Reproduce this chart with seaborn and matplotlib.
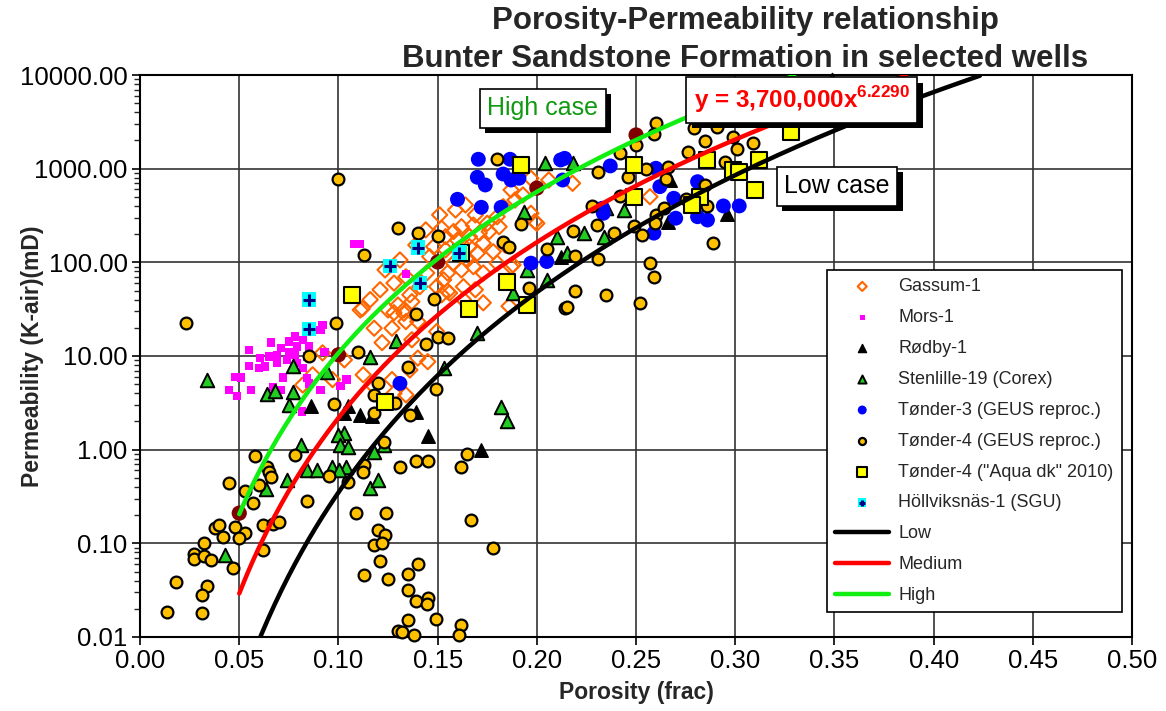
import numpy as np
import pandas as pd
import seaborn as sns
import matplotlib
matplotlib.use("Agg")
import matplotlib.pyplot as plt
from matplotlib.markers import MarkerStyle
import matplotlib.patheffects as pe
from matplotlib.ticker import FixedLocator, FuncFormatter, LogLocator, NullFormatter
from matplotlib.legend_handler import HandlerTuple

# ---------------- data (porosity frac, permeability mD) ----------------
gassum_por = [0.197,0.187,0.193,0.189,0.183,0.200,0.197,0.180,0.175,0.168,0.162,0.158,0.154,0.148,0.146,0.154,0.160,0.166,0.171,0.176,0.181,0.173,0.170,0.165,0.162,0.158,0.155,0.153,0.1495,0.1445,0.141,0.134,0.128,0.173,0.180,0.178,0.187,0.163,0.156,0.152,0.166,0.168,0.112,0.125,0.136,0.130,0.128,0.133,0.118,0.127,0.122,0.134,0.140,0.137,0.103,0.097,0.1125,0.140,0.145,0.1495,0.134,0.128,0.152,0.155,0.173,0.186,0.136,0.118,0.127,0.111,0.087,0.082,0.199,0.188,0.133,0.137,0.257,0.218,0.092,0.206,0.159,0.164,0.169,0.151,0.144,0.139,0.131,0.1235,0.121,0.116,0.163,0.169,0.184]
gassum_k   = [790,593,524,463,393,261,334,307,261,250,240,213,188,147,115,136,173,188,205,213,240,160,125,106,83,98,77,65,55,77,55,70,60,77,98,130,90,55,47,231,147,90,32,31,45,35,29,28.6,19.8,19.8,13.9,23.3,23.3,14.9,9.1,5.6,6.3,9.5,8.7,18.2,3.85,4.0,45,49,37,34,7.1,4.7,5.6,31,6.3,4.9,272,94,31,38,502,698,10.8,757,362,410,321,321,222,153,106,83,51,40,40,51,153]

mors_por = [0.111,0.092,0.091,0.078,0.066,0.055,0.071,0.075,0.082,0.079,0.085,0.0605,0.065,0.069,0.074,0.055,0.060,0.063,0.069,0.079,0.082,0.048,0.051,0.072,0.084,0.104,0.101,0.045,0.049,0.056,0.067,0.071,0.085,0.091,0.0815,0.093,0.078,0.084,0.075,0.134,0.108]
mors_k   = [157,21.5,19,16.1,13.9,11.6,12.1,14.3,14.9,12.6,12.6,9.5,9.9,10.3,9.1,7.8,7.4,7.7,8.4,8.4,7.4,6.0,5.9,5.9,5.8,5.6,4.8,4.3,3.75,4.3,4.7,4.35,5.1,4.3,2.55,11.1,10.3,9.9,11.1,75,157]

rodby_por = [0.086,0.105,0.103,0.111,0.117,0.139,0.145,0.172,0.212,0.215,0.266,0.296,0.267]
rodby_k   = [2.96,2.93,2.47,2.32,2.30,2.55,1.40,1.0,115,120,272,329,757]

sten_por = [0.034,0.077,0.064,0.068,0.077,0.075,0.094,0.116,0.103,0.081,0.100,0.101,0.105,0.084,0.089,0.097,0.104,0.1005,0.074,0.0635,0.116,0.120,0.043,0.129,0.153,0.170,0.182,0.185,0.118,0.123,0.188,0.204,0.1935,0.210,0.195,0.205,0.244,0.224,0.234,0.235,0.215,0.218,0.349]
sten_k   = [5.6,7.8,3.9,4.2,4.1,3.0,6.8,9.7,1.52,1.12,1.44,1.12,1.08,0.61,0.61,0.66,0.65,0.60,0.47,0.38,0.39,0.48,0.075,14.3,7.4,17.5,2.85,2.0,0.95,1.12,47,1140,348,188,83,65,362,205,188,378,125,1150,8850]

t3_por = [0.1705,0.1865,0.170,0.174,0.183,0.187,0.191,0.160,0.172,0.182,0.212,0.214,0.213,0.197,0.205,0.131,0.237,0.260,0.262,0.269,0.270,0.281,0.281,0.286,0.294,0.302,0.259,0.233,0.2335]
t3_k   = [1260,1260,810,670,877,757,790,471,387,387,1240,1290,757,98,102,5.1,1070,1010,643,483,296,726,307,283,400,400,205,378,334]

t4_por = [0.058,0.078,0.064,0.065,0.066,0.045,0.060,0.053,0.057,0.084,0.095,0.113,0.1125,0.105,0.109,0.120,0.118,0.113,0.121,0.038,0.040,0.042,0.048,0.053,0.050,0.062,0.067,0.070,0.032,0.027,0.027,0.032,0.036,0.047,0.062,0.018,0.034,0.031,0.0135,0.031,0.023,0.113,0.099,0.085,0.110,0.098,0.118,0.120,0.118,0.100,0.180,0.130,0.140,0.150,0.183,0.186,0.192,0.205,0.196,0.148,0.139,0.144,0.150,0.155,0.135,0.1285,0.136,0.149,0.214,0.123,0.131,0.139,0.145,0.165,0.162,0.124,0.1235,0.122,0.125,0.140,0.135,0.135,0.139,0.145,0.1445,0.135,0.149,0.130,0.132,0.138,0.162,0.161,0.167,0.178,0.260,0.279,0.291,0.299,0.285,0.309,0.301,0.276,0.295,0.259,0.250,0.242,0.231,0.255,0.246,0.266,0.265,0.285,0.242,0.228,0.218,0.2305,0.239,0.249,0.253,0.260,0.264,0.275,0.286,0.2595,0.289,0.231,0.219,0.257,0.259,0.219,0.235,0.252,0.215]
t4_k   = [0.86,0.88,0.66,0.58,0.51,0.44,0.42,0.36,0.27,0.28,0.52,0.69,0.58,0.45,0.21,0.14,0.096,0.046,0.064,0.145,0.157,0.118,0.149,0.13,0.114,0.157,0.16,0.167,0.10,0.077,0.068,0.074,0.067,0.054,0.084,0.039,0.035,0.028,0.0187,0.018,22.7,120,22.7,10.0,11.1,3.06,3.85,5.1,2.45,776,1270,234,207,191,166,145,257,139,53,40.6,28.1,13.5,16.1,15.5,7.7,3.13,2.35,4.4,32.4,1.22,0.66,0.76,0.75,0.90,0.66,0.21,0.123,0.102,0.042,0.060,0.047,0.032,0.024,0.026,0.0224,0.0153,0.0155,0.0117,0.0114,0.0106,0.0135,0.0106,0.178,0.090,3100,2700,2800,2200,1990,1870,1610,1520,1190,2340,1790,1460,930,986,822,1035,776,670,512,400,218,250,205,244,196,320,384,471,400,261,162,108,117,98,70,50,45,37,33]

aqua_por = [0.107,0.192,0.162,0.185,0.166,0.1235,0.195,0.249,0.249,0.286,0.299,0.302,0.312,0.310,0.282,0.278,0.328]
aqua_k   = [45,1090,125,61,32,3.26,35,1090,495,1240,968,929,1240,593,502,410,2480]

holl_por = [0.085,0.085,0.140,0.126,0.141,0.161]
holl_k   = [40,19.3,144,92,60,127]

high_pts_por = [0.05,0.10,0.15,0.20,0.25]
high_pts_k   = [0.21,10.3,101,620,2290]

# trend lines  k = a * phi^b
low_a, low_b = 4.4e6, 7.1
med_a, med_b = 3.7e6, 6.229
high_a, high_b = 5.6e6, 5.716

series_labels = ["Gassum-1", "Mors-1", "Rødby-1", "Stenlille-19 (Corex)",
                 "Tønder-3 (GEUS reproc.)", "Tønder-4 (GEUS reproc.)",
                 "Tønder-4 (\"Aqua dk\" 2010)", "Höllviksnäs-1 (SGU)",
                 "Low", "Medium", "High"]
x_ticks = [0.00, 0.05, 0.10, 0.15, 0.20, 0.25, 0.30, 0.35, 0.40, 0.45, 0.50]
y_ticks = [0.01, 0.1, 1, 10, 100, 1000, 10000]

# ---------------- style ----------------
sns.set_style("white")
plt.rcParams["font.family"] = ["Liberation Sans", "DejaVu Sans"]
plt.rcParams["mathtext.fontset"] = "custom"
plt.rcParams["mathtext.bf"] = "Liberation Sans:bold"
plt.rcParams["mathtext.rm"] = "Liberation Sans"

fig = plt.figure(figsize=(11.66, 7.11), dpi=100)
fig.patch.set_facecolor("white")
ax = fig.add_axes([0.1201, 0.1041, 0.8508, 0.7904])

handles = []

def scat(xv, yv, **kw):
    sns.scatterplot(x=np.asarray(xv), y=np.asarray(yv), ax=ax, legend=False, clip_on=False, **kw)
    return ax.collections[-1]

h = scat(gassum_por, gassum_k, marker=MarkerStyle("D", fillstyle="none"), color="#FF6600", s=60, linewidth=1.5, zorder=3.0)
handles.append(h)
h = scat(mors_por, mors_k, marker="s", color="#FF00FF", edgecolor="none", s=36, zorder=3.1)
handles.append(h)
h = scat(rodby_por, rodby_k, marker="^", color="black", edgecolor="black", s=95, linewidth=1.0, zorder=3.2)
handles.append(h)
h = scat(sten_por, sten_k, marker="^", color="#22CC22", edgecolor="black", s=95, linewidth=1.4, zorder=3.3)
handles.append(h)
h = scat(t3_por, t3_k, marker="o", color="#0000FF", edgecolor="none", s=115, zorder=3.4)
handles.append(h)
h = scat(t4_por, t4_k, marker="o", color="#FFC000", edgecolor="black", s=72, linewidth=1.6, zorder=3.5)
handles.append(h)
h = scat(aqua_por, aqua_k, marker="s", color="#FFFF00", edgecolor="black", s=135, linewidth=1.5, zorder=3.6)
handles.append(h)
h1 = scat(holl_por, holl_k, marker="s", color="#00FFFF", edgecolor="none", s=105, zorder=3.7)
h2 = scat(holl_por, holl_k, marker="+", color="#000080", s=70, linewidth=2.2, zorder=3.75)
handles.append((h1, h2))
scat(high_pts_por, high_pts_k, marker="o", color="#800000", edgecolor="none", s=120, zorder=3.8)

xc = np.linspace(0.05, 0.5, 400)
line_specs = [(low_a, low_b, "black"), (med_a, med_b, "#FF0000"), (high_a, high_b, "#11EE11")]
for a, b, c in line_specs:
    yc = a * xc ** b
    keep = yc <= 10000
    sns.lineplot(x=xc[keep], y=yc[keep], ax=ax, color=c, linewidth=3.2, legend=False, zorder=4, sort=False)
    handles.append(ax.lines[-1])

# ---------------- axes ----------------
ax.set_yscale("log")
ax.set_xlim(0, 0.5)
ax.set_ylim(0.01, 10000)
ax.xaxis.set_major_locator(FixedLocator(x_ticks))
ax.xaxis.set_major_formatter(FuncFormatter(lambda v, p: f"{v:.2f}"))
ax.yaxis.set_major_locator(FixedLocator(y_ticks))
ax.yaxis.set_major_formatter(FuncFormatter(lambda v, p: f"{v:.2f}"))
ax.yaxis.set_minor_locator(LogLocator(base=10, subs=np.arange(2, 10)))
ax.yaxis.set_minor_formatter(NullFormatter())
ax.tick_params(axis="both", which="major", direction="out", length=6, width=1.2,
               labelsize=18.5, colors="black", bottom=True, left=True, pad=3)
ax.tick_params(axis="y", which="minor", direction="out", length=4, width=1.0, left=True)
ax.grid(True, which="major", color="#333333", linewidth=1.2)
ax.set_axisbelow(True)
for sp in ax.spines.values():
    sp.set_color("black")
    sp.set_linewidth(1.5)

ax.set_xlabel("Porosity (frac)", fontsize=16.5, fontweight="bold")
ax.xaxis.set_label_coords(0.5, -0.078)
ax.set_ylabel("Permeability (K-air)(mD)", fontsize=16.5, fontweight="bold")
ax.yaxis.set_label_coords(-0.097, 0.5)

fig.text(0.639, 0.992, "Porosity-Permeability relationship\nBunter Sandstone Formation in selected wells",
         ha="center", va="top", fontsize=22.5, fontweight="bold", linespacing=1.36)

# ---------------- annotation boxes ----------------
def boxed(x, y, s, color, fs, weight="normal"):
    t = ax.text(x, y, s, transform=ax.transAxes, ha="center", va="center", color=color,
                fontsize=fs, fontweight=weight, zorder=20,
                bbox=dict(boxstyle="square,pad=0.3", fc="white", ec="black", lw=1.2))
    t.get_bbox_patch().set_path_effects([
        pe.SimplePatchShadow(offset=(4, -4), shadow_rgbFace="black", alpha=1.0), pe.Normal()])
    return t

boxed(0.406, 0.941, "High case", "#119911", 18)
boxed(0.667, 0.9555, "y = 3,700,000x$^{\\mathbf{6.2290}}$", "#FF0000", 17.5, "bold")
boxed(0.7026, 0.8025, "Low case", "black", 18)

# ---------------- legend ----------------
leg = ax.legend(handles, series_labels, loc="upper left", bbox_to_anchor=(0.6925, 0.653),
                borderaxespad=0, frameon=True, fancybox=False, edgecolor="black",
                fontsize=13, handlelength=3.0, handletextpad=0.5, labelspacing=0.77,
                borderpad=0.45, markerscale=0.6, framealpha=1,
                handler_map={tuple: HandlerTuple(ndivide=1)})
leg.get_frame().set_linewidth(1.2)
leg.set_zorder(30)

fig.savefig("out.png", dpi=100, facecolor="white")
